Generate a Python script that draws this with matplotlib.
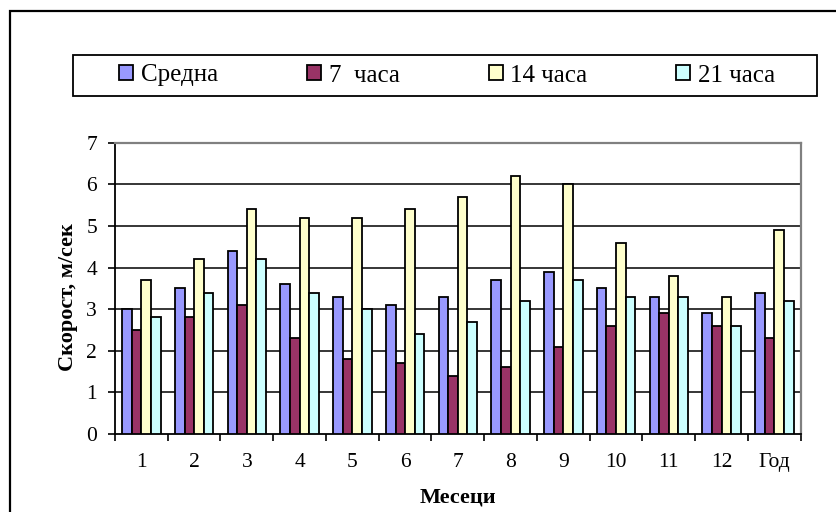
import numpy as np
import matplotlib
matplotlib.use('Agg')
import matplotlib.pyplot as plt
from matplotlib.patches import Patch, Rectangle

plt.rcParams['font.family'] = ['Liberation Serif', 'DejaVu Serif']

months = ['1', '2', '3', '4', '5', '6', '7', '8', '9', '10', '11', '12', 'Год']
sredna = [3.0, 3.5, 4.4, 3.6, 3.3, 3.1, 3.3, 3.7, 3.9, 3.5, 3.3, 2.9, 3.4]
h7 = [2.5, 2.8, 3.1, 2.3, 1.8, 1.7, 1.4, 1.6, 2.1, 2.6, 2.9, 2.6, 2.3]
h14 = [3.7, 4.2, 5.4, 5.2, 5.2, 5.4, 5.7, 6.2, 6.0, 4.6, 3.8, 3.3, 4.9]
h21 = [2.8, 3.4, 4.2, 3.4, 3.0, 2.4, 2.7, 3.2, 3.7, 3.3, 3.3, 2.6, 3.2]

series = [sredna, h7, h14, h21]
labels = ['Средна', '7  часа', '14 часа', '21 часа']
colors = ['#9999FF', '#993366', '#FFFFCC', '#CCFFFF']

W, H = 836, 512
fig = plt.figure(figsize=(W / 100, H / 100), dpi=100)
ax = fig.add_axes([115 / W, 1 - 434 / H, 685.7 / W, 291.3 / H])

x = np.arange(len(months))
w = 1 / 5.5
for i, (vals, c) in enumerate(zip(series, colors)):
    ax.bar(x + (i - 1.5) * w, vals, w, color=c, edgecolor='black', linewidth=1.3, zorder=3)

ax.set_xlim(-0.5, len(months) - 0.5)
ax.set_ylim(0, 7)
ax.set_yticks(range(8))
ax.set_yticklabels([str(v) for v in range(8)])

# ticks between categories, labels at centers
ax.set_xticks(np.arange(len(months) + 1) - 0.5)
ax.set_xticklabels([])
ax.set_xticks(x, minor=True)
ax.set_xticklabels(months, minor=True)
ax.tick_params(axis='x', which='major', direction='out', length=5, width=1.2, color='black')
ax.tick_params(axis='x', which='minor', length=0, pad=14, labelsize=15.5)
ax.tick_params(axis='y', direction='out', length=5, width=1.2, pad=8, labelsize=15.5)

for yv in range(1, 7):
    ax.axhline(yv, color='black', linewidth=1.1, zorder=1)

ax.spines['left'].set_color('black')
ax.spines['left'].set_linewidth(1.3)
ax.spines['bottom'].set_color('black')
ax.spines['bottom'].set_linewidth(1.3)
ax.spines['top'].set_color('#808080')
ax.spines['top'].set_linewidth(1.6)
ax.spines['right'].set_color('#808080')
ax.spines['right'].set_linewidth(1.6)

ax.set_xlabel('Месеци', fontsize=16, fontweight='bold', va='center')
ax.xaxis.set_label_coords(0.5, (434 - 497) / 291.3)
ax.set_ylabel('Скорост, м/сек', fontsize=16, fontweight='bold', va='center')
ax.yaxis.set_label_coords((68 - 115) / 685.7, (434 - 297) / 291.3)

# legend
handles = [Patch(facecolor=c, edgecolor='black', linewidth=1.3) for c in colors]
fig.legend(handles, labels, ncol=4, loc='center left',
           bbox_to_anchor=(119 / W, 1 - 75.5 / H), frameon=False,
           fontsize=18, handlelength=0.56, handleheight=0.56,
           handletextpad=0.32, columnspacing=3.55, borderpad=0, borderaxespad=0)
fig.add_artist(Rectangle((73 / W, 1 - 96 / H), 744 / W, 41 / H, transform=fig.transFigure,
                         fill=False, edgecolor='black', linewidth=1.3))

# outer chart frame (right and bottom edges lie outside the picture)
fig.add_artist(Rectangle((9.5 / W, -0.1), 1.2, 1.1 - 11 / H, transform=fig.transFigure,
                         fill=False, edgecolor='black', linewidth=1.6))

fig.savefig('out.png', dpi=100)
